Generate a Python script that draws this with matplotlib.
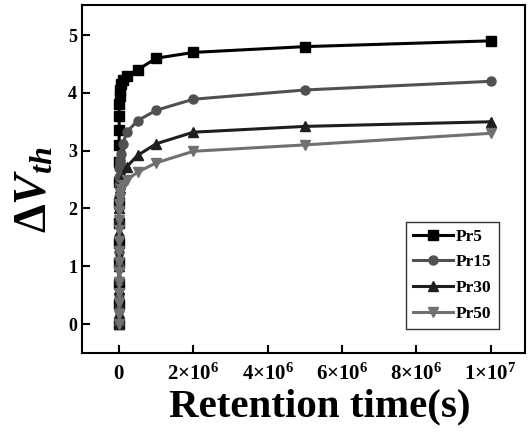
import matplotlib
matplotlib.use("Agg")
import matplotlib.pyplot as plt
from matplotlib.ticker import FixedLocator, FixedFormatter

time_s = [0, 1, 2, 5, 10, 20, 50, 100, 200, 500, 1e3, 2e3, 5e3, 1e4, 2e4, 5e4,
          1e5, 2e5, 5e5, 1e6, 2e6, 5e6, 1e7]
pr5 = [0, 0.35, 0.7, 1.05, 1.4, 1.75, 2.1, 2.45, 2.8, 3.1, 3.35, 3.6, 3.8, 3.95,
       4.05, 4.15, 4.22, 4.3, 4.4, 4.6, 4.7, 4.8, 4.9]
pr15 = [0, 0.25, 0.5, 0.75, 1.0, 1.25, 1.5, 1.75, 2.0, 2.2, 2.4, 2.55, 2.7, 2.78,
        2.84, 2.95, 3.11, 3.32, 3.52, 3.7, 3.89, 4.05, 4.2]
pr30 = [0, 0.2, 0.4, 0.6, 0.8, 1.0, 1.2, 1.4, 1.6, 1.8, 2.0, 2.15, 2.25, 2.35,
        2.42, 2.48, 2.54, 2.72, 2.92, 3.12, 3.32, 3.42, 3.5]
pr50 = [0, 0.18, 0.36, 0.54, 0.72, 0.9, 1.08, 1.26, 1.44, 1.62, 1.8, 1.95, 2.08,
        2.18, 2.26, 2.33, 2.4, 2.49, 2.63, 2.79, 2.99, 3.1, 3.3]
series_names = ["Pr5", "Pr15", "Pr30", "Pr50"]
xtick_vals = [0, 2e6, 4e6, 6e6, 8e6, 1e7]
xtick_labels = [r"$\mathbf{0}$", r"$\mathbf{2{\times}10^{6}}$", r"$\mathbf{4{\times}10^{6}}$",
                r"$\mathbf{6{\times}10^{6}}$", r"$\mathbf{8{\times}10^{6}}$",
                r"$\mathbf{1{\times}10^{7}}$"]
ytick_vals = [0, 1, 2, 3, 4, 5]

plt.rcParams["font.family"] = ["Liberation Serif", "DejaVu Serif"]
plt.rcParams["font.weight"] = "bold"
plt.rcParams["mathtext.fontset"] = "custom"
plt.rcParams["mathtext.rm"] = "Liberation Serif:bold"
plt.rcParams["mathtext.bf"] = "Liberation Serif:bold"
plt.rcParams["mathtext.it"] = "Liberation Serif:italic:bold"

fig = plt.figure(figsize=(5.3, 4.32), dpi=100)
ax = fig.add_axes([0.1547, 0.1829, 0.836, 0.8055])

styles = [("#000000", "s"), ("#505050", "o"), ("#1e1e1e", "^"), ("#707070", "v")]
for name, vals, (c, m) in zip(series_names, [pr5, pr15, pr30, pr50], styles):
    ax.plot(time_s, vals, color=c, marker=m, markersize=6.5, linewidth=2.2,
            label=name)

ax.set_xlim(-1.0e6, 1.093e7)
ax.set_ylim(-0.5, 5.52)
ax.xaxis.set_major_locator(FixedLocator(xtick_vals))
ax.xaxis.set_major_formatter(FixedFormatter(xtick_labels))
ax.yaxis.set_major_locator(FixedLocator(ytick_vals))
ax.tick_params(direction="in", length=6, width=1.5, labelsize=13,
               top=False, right=False)
ax.tick_params(axis="x", pad=8, labelsize=15)
for lbl in ax.get_yticklabels():
    lbl.set_fontweight("bold")
for sp in ax.spines.values():
    sp.set_linewidth(1.5)

ax.set_xlabel("Retention time(s)", fontsize=29.5, fontweight="bold")
ax.xaxis.set_label_coords(0.537, -0.102)
ax.set_ylabel(r"$\Delta V_{th}$", fontsize=33)
ax.yaxis.set_label_coords(-0.056, 0.468)

leg = ax.legend(loc="lower right", bbox_to_anchor=(0.96, 0.045), fontsize=12.5,
                frameon=True, fancybox=False, edgecolor="black",
                handlelength=2.3, borderpad=0.4, labelspacing=0.55,
                handletextpad=0.2)
leg.get_frame().set_linewidth(1.0)
for t in leg.get_texts():
    t.set_fontweight("bold")

fig.savefig("out.png", dpi=100)
